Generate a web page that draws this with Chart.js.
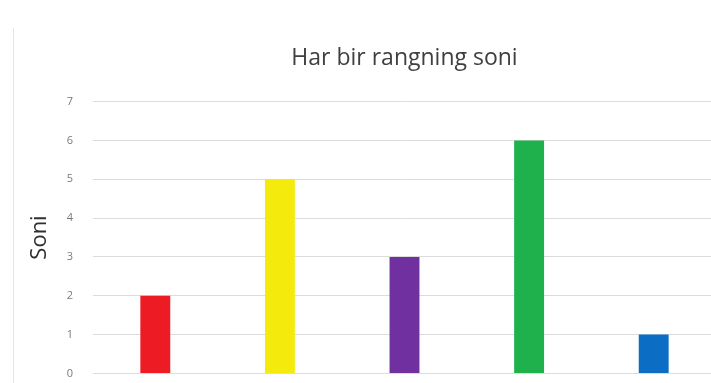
<!DOCTYPE html>
<html>
<head>
<meta charset="utf-8">
<script src="https://cdn.jsdelivr.net/npm/chart.js@4"></script>
<style>
  html, body { margin: 0; padding: 0; background: #fff; overflow: hidden; }
  #wrap { position: relative; width: 711px; height: 383px; overflow: hidden; }
  #frame { position: absolute; left: 13px; top: 28px; bottom: 0; width: 1px; background: #e4e4e4; }
  #barChart { position: absolute; left: 0; top: 0; }
</style>
</head>
<body>
<div id="wrap">
  <div id="frame"></div>
  <!-- taller than the window so the x axis sits at the bottom edge like the cropped original -->
  <canvas id="barChart" width="716" height="400"></canvas>
</div>
<script>
    var colorNames = ['Qizil', 'Sariq', 'Binafsha', 'Yashil', "Ko'k"];
    var counts = [2, 5, 3, 6, 1];
    var barColors = ['#ed1c24', '#f4ea0c', '#7030a0', '#1fb14c', '#0b6ec4'];
    var yTicks = [0, 1, 2, 3, 4, 5, 6, 7];

    var ctx = document.getElementById('barChart').getContext('2d');
    var barChart = new Chart(ctx, {
      type: 'bar',
      data: {
        labels: colorNames,
        datasets: [{
          label: 'Soni',
          data: counts,
          backgroundColor: barColors,
          borderWidth: 0,
          barPercentage: 0.24,
          categoryPercentage: 1
        }]
      },
      options: {
        responsive: false,
        animation: false,
        layout: { padding: { top: 45, bottom: 0, left: 0, right: 0 } },
        plugins: {
          legend: { display: false },
          tooltip: { enabled: false },
          title: {
            display: true,
            fullSize: false,
            text: 'Har bir rangning soni',
            color: '#404040',
            font: { family: 'Open Sans', size: 23, weight: 'normal' },
            padding: { top: 0, bottom: 29 }
          }
        },
        scales: {
          x: {
            display: false
          },
          y: {
            min: yTicks[0],
            max: yTicks[yTicks.length - 1],
            afterFit: function (scale) { scale.width = 93; },
            ticks: {
              stepSize: 1,
              padding: 20,
              color: '#7a7a7a',
              font: { family: 'Open Sans', size: 11 }
            },
            grid: { color: '#dcdcdc', lineWidth: 1, drawTicks: false },
            border: { display: false },
            title: {
              display: true,
              text: 'Soni',
              color: '#303030',
              font: { family: 'Open Sans', size: 22 },
              padding: { top: 27, bottom: 0 }
            }
          }
        }
      }
    });
</script>
</body>
</html>
